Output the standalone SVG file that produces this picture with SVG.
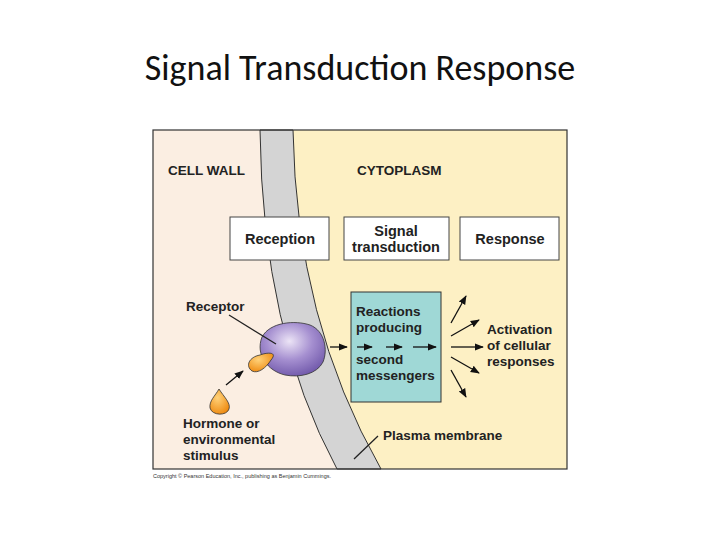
<svg xmlns="http://www.w3.org/2000/svg" width="720" height="540" viewBox="0 0 720 540">
<defs>
<style>
.t{font-family:"Liberation Sans",Arial,sans-serif;font-weight:bold;font-size:13.5px;fill:#222}
.b{font-size:14.5px}
.box{fill:#fff;stroke:#444;stroke-width:1}
.ln{stroke:#222;stroke-width:1.3;fill:none}
.ar{stroke:#111;stroke-width:1.3;fill:none;marker-end:url(#ah)}
</style>
<marker id="ah" viewBox="0 0 10 10" refX="9" refY="5" markerWidth="7" markerHeight="7" orient="auto"><path d="M0,1 L10,5 L0,9 z" fill="#111"/></marker>
<radialGradient id="pg" cx="0.45" cy="0.35" r="0.7"><stop offset="0" stop-color="#ece4f6"/><stop offset="0.5" stop-color="#a58fd0"/><stop offset="1" stop-color="#6d55a8"/></radialGradient>
<radialGradient id="og" cx="0.4" cy="0.35" r="0.7"><stop offset="0" stop-color="#ffd27a"/><stop offset="1" stop-color="#ee8a10"/></radialGradient>
</defs>
<rect width="720" height="540" fill="#fff"/>
<text x="360" y="80" text-anchor="middle" font-family="Carlito,'Liberation Sans',sans-serif" font-size="36" fill="#111">Signal Transduction Response</text>
<g id="background">
<rect x="153" y="130" width="414" height="339" fill="#fdf0c4"/>
<path d="M153,130 L260,130 Q262,330 337,469 L153,469 Z" fill="#fbeee2"/>
<path d="M260,130 L293,130 Q296,320 381,469 L337,469 Q262,330 260,130 Z" fill="#d4d4d4" stroke="#333" stroke-width="1"/>
<rect x="153" y="130" width="414" height="339" fill="none" stroke="#333" stroke-width="1.2"/>
</g>
<text class="t" x="168" y="175">CELL WALL</text>
<text class="t" x="357" y="175">CYTOPLASM</text>
<g id="reception"><rect class="box" x="230" y="217" width="99" height="43"/><text class="t b" x="280" y="244" text-anchor="middle">Reception</text></g>
<g id="signal-transduction"><rect class="box" x="344" y="217" width="105" height="43"/><text class="t b" x="396" y="236" text-anchor="middle">Signal</text><text class="t b" x="396" y="252" text-anchor="middle">transduction</text></g>
<g id="response"><rect class="box" x="460" y="217" width="99" height="43"/><text class="t b" x="510" y="244" text-anchor="middle">Response</text></g>
<g id="reactions"><rect x="351" y="292" width="90" height="110" fill="#9fd8d6" stroke="#333"/>
<text class="t" x="356" y="316">Reactions</text><text class="t" x="356" y="332">producing</text>
<text class="t" x="356" y="364">second</text><text class="t" x="356" y="380">messengers</text></g>
<g id="receptor"><path d="M262,337 C270,322 295,320 310,325 C325,331 328,350 323,362 C317,374 300,378 285,375 C268,371 255,355 262,337 Z" fill="url(#pg)" stroke="#333" stroke-width="0.8"/>
<text class="t" x="186" y="311">Receptor</text></g>
<g id="hormone">
<path d="M260,355 C268,352 278,352 271,360 C266,368 258,374 252,371 C245,366 249,357 260,355 Z" fill="url(#og)" stroke="#333" stroke-width="0.8"/>
<path d="M219,389 C224,397 231,403 229,409 C227,416 212,416 210,408 C209,401 215,396 219,389 Z" fill="url(#og)" stroke="#333" stroke-width="0.8"/>
<text class="t" x="183" y="428">Hormone or</text><text class="t" x="183" y="444">environmental</text><text class="t" x="183" y="460">stimulus</text></g>
<text class="t" x="487" y="334">Activation</text><text class="t" x="487" y="350">of cellular</text><text class="t" x="487" y="366">responses</text>
<text class="t" x="383" y="440">Plasma membrane</text>
<text x="153" y="478" font-family="'Liberation Sans',Arial,sans-serif" font-size="5.5" fill="#333">Copyright © Pearson Education, Inc., publishing as Benjamin Cummings.</text>
<g id="connectors">
<line class="ln" x1="229" y1="315" x2="276" y2="344"/>
<line class="ln" x1="354" y1="459" x2="378" y2="436"/>
<line class="ar" x1="226" y1="385" x2="243" y2="371"/>
<line class="ar" x1="330" y1="347" x2="347" y2="347"/>
<line class="ar" x1="357" y1="347" x2="372" y2="347"/>
<line class="ar" x1="386" y1="347" x2="402" y2="347"/>
<line class="ar" x1="413" y1="347" x2="436" y2="347"/>
<line class="ar" x1="451" y1="323" x2="466" y2="296"/>
<line class="ar" x1="451" y1="336" x2="479" y2="320"/>
<line class="ar" x1="451" y1="347" x2="483" y2="347"/>
<line class="ar" x1="451" y1="357" x2="479" y2="373"/>
<line class="ar" x1="451" y1="370" x2="466" y2="397"/>
</g>
</svg>
